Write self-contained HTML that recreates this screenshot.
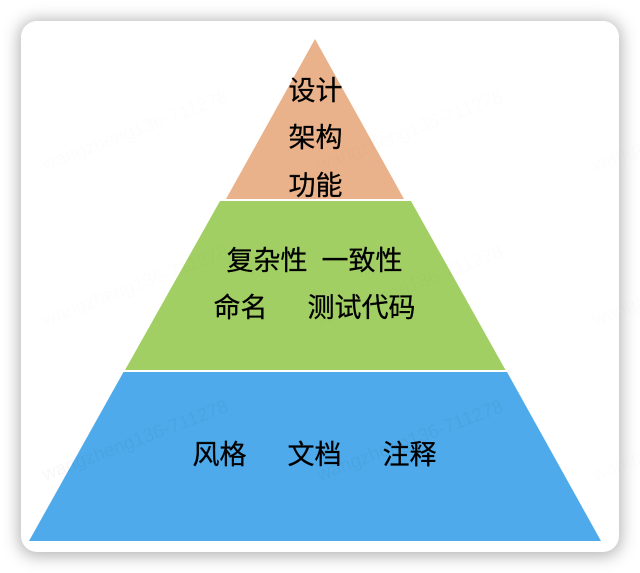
<!DOCTYPE html>
<html lang="zh-CN">
<head>
<meta charset="utf-8">
<title>Pyramid</title>
<style>
html,body{margin:0;padding:0;background:#fff;width:640px;height:573px;overflow:hidden}
svg{display:block}
.t{font-family:"Liberation Sans","Noto Sans CJK SC",sans-serif;font-size:27px;fill:#000;stroke:#000;stroke-width:.3px}
.w{font-family:"Liberation Sans",sans-serif;font-size:19px;fill:#000;fill-opacity:.012}
.w2{font-family:"Liberation Sans",sans-serif;font-size:19px;fill:#000;fill-opacity:.03}
</style>
</head>
<body>
<svg width="640" height="573" viewBox="0 0 640 573" xmlns="http://www.w3.org/2000/svg">
<defs>
<filter id="s" x="-10%" y="-10%" width="120%" height="120%">
<feGaussianBlur stdDeviation="8"/>
</filter>
</defs>
<rect x="19" y="20" width="602" height="536" rx="17" fill="#000" fill-opacity=".3" filter="url(#s)"/>
<rect x="21" y="21" width="598" height="531" rx="16" fill="#fff"/>

<polygon points="315,39 404,199 226,199" fill="#e9b28a"/>
<polygon points="220,201 411,201 505.500,370 125,370" fill="#a1cf64"/>
<polygon points="123.500,372 507,372 601,541 29,541" fill="#4eaaea"/>

<text class="t" x="288.500" y="100">设计</text>
<text class="t" x="288.500" y="147">架构</text>
<text class="t" x="288.500" y="195">功能</text>
<text class="t" x="226.500" y="270">复杂性</text>
<text class="t" x="321.500" y="270">一致性</text>
<text class="t" x="213.500" y="317">命名</text>
<text class="t" x="307.500" y="317">测试代码</text>
<text class="t" x="192.500" y="464">风格</text>
<text class="t" x="287.500" y="464">文档</text>
<text class="t" x="382.500" y="464">注释</text>

<text class="w" transform="translate(45 171) rotate(-20.700)">wangzheng136-711278</text>
<text class="w" transform="translate(320 171) rotate(-20.700)">wangzheng136-711278</text>
<text class="w" transform="translate(595 171) rotate(-20.700)">wangzheng136-711278</text>
<text class="w" transform="translate(45 326) rotate(-20.700)">wangzheng136-711278</text>
<text class="w" transform="translate(320 326) rotate(-20.700)">wangzheng136-711278</text>
<text class="w" transform="translate(595 326) rotate(-20.700)">wangzheng136-711278</text>
<text class="w2" transform="translate(45 481) rotate(-20.700)">wangzheng136-711278</text>
<text class="w2" transform="translate(320 481) rotate(-20.700)">wangzheng136-711278</text>
<text class="w" transform="translate(595 481) rotate(-20.700)">wangzheng136-711278</text>
</svg>
</body>
</html>
